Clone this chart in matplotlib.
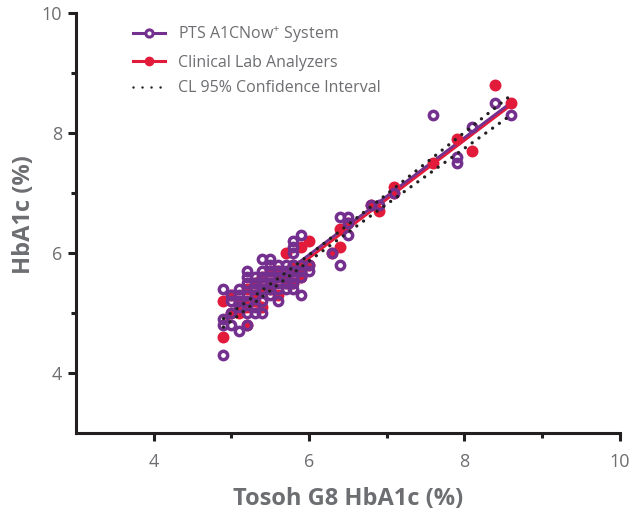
import numpy as np
import matplotlib.pyplot as plt

plt.rcParams['font.family'] = ['Open Sans', 'DejaVu Sans']
plt.rcParams['mathtext.fontset'] = 'custom'
plt.rcParams['mathtext.rm'] = 'Open Sans'

# PTS A1CNow+ readings (open purple circles)
pts_x = [4.9, 4.9, 4.9, 4.9,
         5.0, 5.0, 5.0, 5.0,
         5.1, 5.1, 5.1, 5.1, 5.1,
         5.2, 5.2, 5.2, 5.2, 5.2, 5.2, 5.2,
         5.3, 5.3, 5.3, 5.3, 5.3, 5.3,
         5.4, 5.4, 5.4, 5.4, 5.4, 5.4, 5.4,
         5.5, 5.5, 5.5, 5.5, 5.5, 5.5, 5.5,
         5.6, 5.6, 5.6, 5.6, 5.6, 5.6,
         5.7, 5.7, 5.7, 5.7, 5.7,
         5.8, 5.8, 5.8, 5.8, 5.8, 5.8, 5.8, 5.8,
         5.9, 5.9, 5.9, 5.9, 5.9,
         6.0, 6.0,
         6.3, 6.4, 6.4, 6.5, 6.5, 6.5, 6.8, 6.9, 7.1, 7.6, 7.9, 7.9, 8.1, 8.4, 8.6]
pts_y = [4.3, 4.8, 4.9, 5.4,
         4.8, 5.0, 5.2, 5.3,
         4.7, 5.1, 5.2, 5.3, 5.4,
         4.8, 5.0, 5.2, 5.3, 5.5, 5.6, 5.7,
         5.0, 5.1, 5.3, 5.4, 5.5, 5.6,
         5.0, 5.2, 5.4, 5.5, 5.6, 5.7, 5.9,
         5.3, 5.4, 5.5, 5.6, 5.7, 5.8, 5.9,
         5.2, 5.4, 5.5, 5.6, 5.7, 5.8,
         5.4, 5.5, 5.6, 5.7, 5.8,
         5.4, 5.5, 5.6, 5.7, 5.8, 6.0, 6.1, 6.2,
         5.3, 5.6, 5.7, 5.8, 6.3,
         5.7, 5.8,
         6.0, 6.6, 5.8, 6.3, 6.5, 6.6, 6.8, 6.8, 7.0, 8.3, 7.5, 7.6, 8.1, 8.5, 8.3]

# Clinical lab analyzer readings (filled red circles)
lab_x = [4.9, 4.9, 5.0, 5.0, 5.1, 5.1, 5.2, 5.2, 5.2, 5.3, 5.3, 5.3,
         5.4, 5.4, 5.4, 5.5, 5.5, 5.5, 5.6, 5.6, 5.6, 5.7, 5.7, 5.7,
         5.8, 5.8, 5.8, 5.9, 5.9, 5.9, 6.0, 6.0,
         6.3, 6.4, 6.4, 6.5, 6.8, 6.9, 7.1, 7.1, 7.6, 7.9, 8.1, 8.4, 8.6]
lab_y = [4.6, 5.2, 5.3, 5.0, 5.2, 5.0, 4.8, 5.1, 5.4, 5.2, 5.5, 5.3,
         5.1, 5.4, 5.6, 5.4, 5.5, 5.7, 5.3, 5.6, 5.7, 5.5, 5.6, 6.0,
         5.5, 5.7, 5.8, 5.6, 5.7, 6.1, 6.2, 5.8,
         6.0, 6.1, 6.4, 6.5, 6.8, 6.7, 7.1, 7.0, 7.5, 7.9, 7.7, 8.8, 8.5]

# regression fits (slope, intercept) and the clinical-lab 95% CI
fit_range = [4.9, 8.6]
pts_fit = [0.975, 0.12]
lab_fit = [0.98, 0.035]
ci_center_x = 5.8
ci_half_at_center = 0.05
ci_growth = 0.056

purple = '#74308F'
red = '#E31B3B'
gray = '#6D6E71'
dark = '#231F20'

fig = plt.figure(figsize=(6.37, 5.12), dpi=100)
ax = fig.add_axes([0.119, 0.154, 0.854, 0.821])

xs = np.linspace(fit_range[0], fit_range[1], 200)
lab_line = lab_fit[0] * xs + lab_fit[1]
pts_line = pts_fit[0] * xs + pts_fit[1]
half = np.sqrt(ci_half_at_center ** 2 + (ci_growth * (xs - ci_center_x)) ** 2)

ax.plot(xs, lab_line, color=red, lw=2.0, zorder=2, solid_capstyle='butt')
ax.plot(xs, pts_line, color=purple, lw=2.0, zorder=2, solid_capstyle='butt')

ax.plot(lab_x, lab_y, 'o', color=red, ms=8.6, mec='none', zorder=3)
ax.plot(pts_x, pts_y, 'o', mfc='none', mec=purple, ms=6.0, mew=2.5, zorder=4)

for sign in (1, -1):
    ax.plot(xs, lab_line + sign * half, color=dark, lw=2.4,
            linestyle=(0, (0.01, 2.5)), dash_capstyle='round', zorder=5)

# legend proxies
h1, = ax.plot([], [], color=purple, lw=2.2, marker='o', mfc='white', mec=purple, ms=5.2, mew=2.2)
h2, = ax.plot([], [], color=red, lw=2.2, marker='o', ms=7, mec='none')
h3, = ax.plot([], [], color=dark, lw=1.8, linestyle=(0, (0.01, 3.6)), dash_capstyle='round')
leg = ax.legend([h1, h2, h3],
                [r'PTS A1CNow$^{\mathregular{+}}$ System', 'Clinical Lab Analyzers',
                 'CL 95% Confidence Interval'],
                loc='upper left', bbox_to_anchor=(0.093, 0.99), frameon=False,
                fontsize=11.5, handlelength=2.0, handletextpad=0.8, labelspacing=0.62,
                borderaxespad=0)
for t in leg.get_texts():
    t.set_color(gray)

ax.set_xlim(3, 10)
ax.set_ylim(3, 10)
ax.set_xticks([4, 6, 8, 10])
ax.set_yticks([4, 6, 8, 10])
ax.set_xticks([5, 7, 9], minor=True)
ax.set_yticks([5, 7, 9], minor=True)

for side in ('top', 'right'):
    ax.spines[side].set_visible(False)
for side in ('left', 'bottom'):
    ax.spines[side].set_linewidth(2.2)
    ax.spines[side].set_color(dark)

ax.tick_params(which='major', length=6, width=2.2, color=dark, labelsize=13,
               labelcolor=gray)
ax.tick_params(which='minor', length=3.5, width=2.2, color=dark)
ax.tick_params(axis='x', which='major', pad=8)
ax.tick_params(axis='y', which='major', pad=4)

ax.set_xlabel('Tosoh G8 HbA1c (%)', fontsize=17, fontweight='bold', color=gray, va='center')
ax.set_ylabel('HbA1c (%)', fontsize=17, fontweight='bold', color=gray, va='center')
ax.xaxis.set_label_coords(0.5, -0.157)
ax.yaxis.set_label_coords(-0.096, 0.52)

fig.savefig('out.png', dpi=100)
